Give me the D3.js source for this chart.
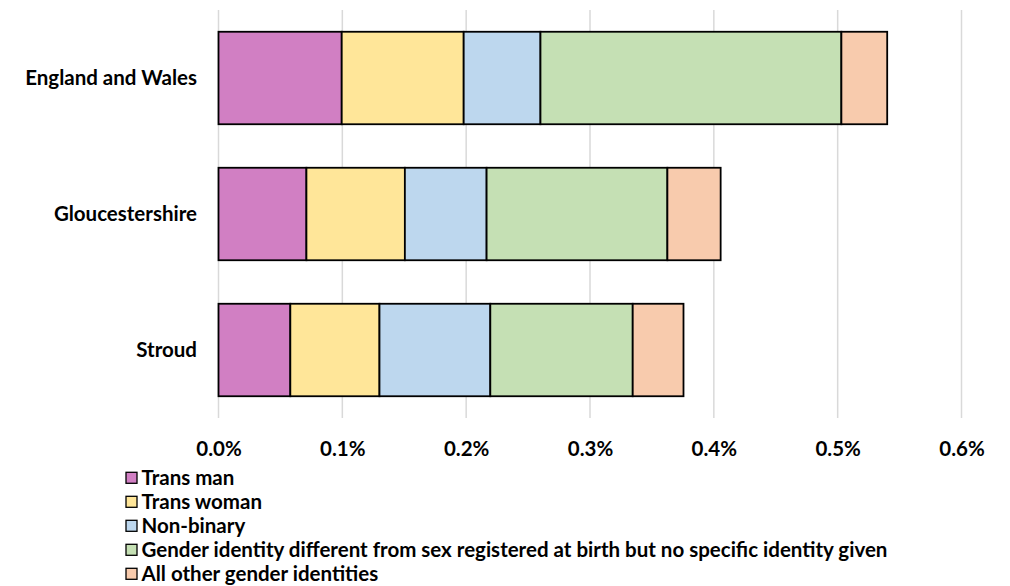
<!DOCTYPE html>
<html><head><meta charset="utf-8">
<script src="https://cdn.jsdelivr.net/npm/d3@7"></script>
<style>body{margin:0;background:#fff}svg{display:block}</style>
</head><body>
<script>
const categories = ["England and Wales", "Gloucestershire", "Stroud"];
const seriesNames = ["Trans man", "Trans woman", "Non-binary",
  "Gender identity different from sex registered at birth but no specific identity given",
  "All other gender identities"];
const transMan   = [0.0995, 0.071, 0.058];
const transWoman = [0.0985, 0.0795, 0.072];
const nonBinary  = [0.062, 0.066, 0.0895];
const noSpecific = [0.243, 0.146, 0.115];
const otherIds   = [0.037, 0.043, 0.041];
const xTicks = [0, 0.1, 0.2, 0.3, 0.4, 0.5, 0.6];
const colors = ["#D17FC3", "#FFE699", "#BDD7EE", "#C5E0B4", "#F8CBAD"];

const W = 1010, H = 586;
const svg = d3.select("body").append("svg").attr("width", W).attr("height", H);
const font = "Lato, 'Open Sans', sans-serif";
const fs = 20.5;

const x = d3.scaleLinear().domain([0, 0.6]).range([218.5, 961.5]);
const y = d3.scaleBand().domain(categories).range([10, 418]).paddingInner(0.32).paddingOuter(0.16);

// gridlines
svg.append("g").selectAll("line").data(xTicks).join("line")
  .attr("x1", d => x(d)).attr("x2", d => x(d)).attr("y1", 10).attr("y2", 418)
  .attr("stroke", "#d9d9d9").attr("stroke-width", 1.5);

const table = categories.map((c, i) => {
  const o = {cat: c};
  o[seriesNames[0]] = transMan[i];
  o[seriesNames[1]] = transWoman[i];
  o[seriesNames[2]] = nonBinary[i];
  o[seriesNames[3]] = noSpecific[i];
  o[seriesNames[4]] = otherIds[i];
  return o;
});
const stacked = d3.stack().keys(seriesNames)(table);

svg.append("g").selectAll("g").data(stacked).join("g")
  .attr("fill", (d, i) => colors[i])
  .selectAll("rect").data(d => d).join("rect")
  .attr("x", d => x(d[0])).attr("width", d => x(d[1]) - x(d[0]))
  .attr("y", d => y(d.data.cat)).attr("height", y.bandwidth())
  .attr("stroke", "#000").attr("stroke-width", 1.8);

// x axis
const xAxis = d3.axisBottom(x).tickValues(xTicks).tickSize(0).tickFormat(d => d.toFixed(1) + "%");
const gx = svg.append("g").attr("transform", "translate(0,438.5)").call(xAxis);
gx.select(".domain").remove();
gx.selectAll("text").attr("font-family", font).attr("font-weight", "bold").attr("font-size", fs).attr("fill", "#000");

// y axis
const yAxis = d3.axisLeft(y).tickSize(0).tickPadding(21.5);
const gy = svg.append("g").attr("transform", "translate(218.5,0)").call(yAxis);
gy.select(".domain").remove();
gy.selectAll("text").attr("font-family", font).attr("font-weight", "bold").attr("font-size", fs).attr("fill", "#000");

// legend
const leg = svg.append("g").selectAll("g").data(seriesNames).join("g")
  .attr("transform", (d, i) => `translate(126,${477.8 + i * 24})`);
leg.append("rect").attr("x", 0).attr("y", -5.5).attr("width", 11).attr("height", 11)
  .attr("fill", (d, i) => colors[i]).attr("stroke", "#000").attr("stroke-width", 1.3);
leg.append("text").attr("x", 15.5).attr("y", 0).attr("dy", "0.35em")
  .attr("font-family", font).attr("font-weight", "bold").attr("font-size", fs).text(d => d);
</script>
</body></html>
